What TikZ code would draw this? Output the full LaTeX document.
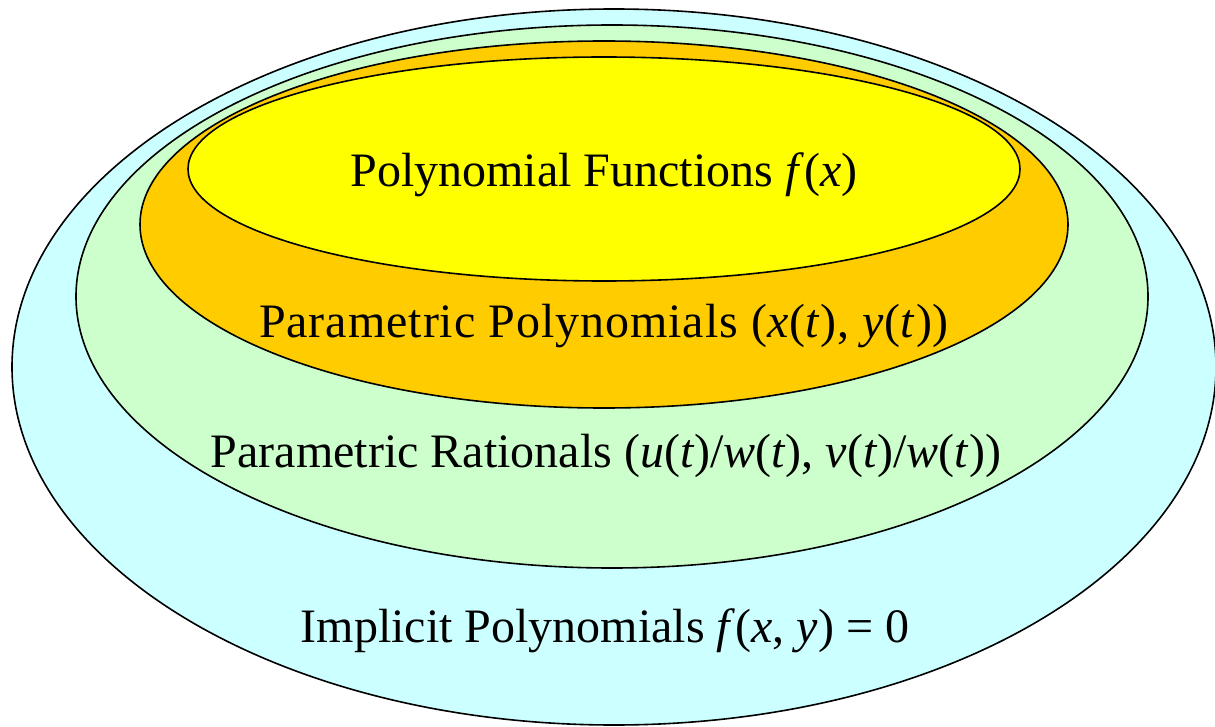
\documentclass[tikz,border=0pt]{standalone}
\usepackage{fontspec}
\setmainfont{Liberation Serif}
\newfontfamily\tnrfont{Liberation Serif}
\newfontfamily\tnrwide[LetterSpace=2]{Liberation Serif}
\definecolor{cyanfill}{HTML}{CCFFFF}
\definecolor{greenfill}{HTML}{CCFFCC}
\definecolor{orangefill}{HTML}{FFCC00}
\definecolor{yellowfill}{HTML}{FFFF00}
\tikzset{
  setellipse/.style={draw=black, line width=1.6pt},
  settext/.style={font=\tnrfont\fontsize{48}{56}\selectfont, anchor=base, inner sep=0pt}
}
\begin{document}
\begin{tikzpicture}[x=1pt,y=-1pt]
\useasboundingbox (0,0) rectangle (1215,727);
\path[setellipse, fill=cyanfill] (614,367) ellipse [x radius=602, y radius=358];
\path[setellipse, fill=greenfill] (612,296.5) ellipse [x radius=536, y radius=271.5];
\path[setellipse, fill=orangefill] (604,224.5) ellipse [x radius=464, y radius=183.5];
\path[setellipse, fill=yellowfill] (604,169) ellipse [x radius=416, y radius=112];
\node[settext] (poly) at (604,187) {Polynomial Functions \textit{f}(\textit{x})};
\node[settext, font=\tnrwide\fontsize{48}{56}\selectfont] (parpoly) at (604,337) {Parametric Polynomials (\textit{x}(\textit{t}), \textit{y}(\textit{t}))};
\node[settext] (parrat) at (606,467) {Parametric Rationals (\textit{u}(\textit{t})/\textit{w}(\textit{t}), \textit{v}(\textit{t})/\textit{w}(\textit{t}))};
\node[settext] (impl) at (605,642) {Implicit Polynomials \textit{f}(\textit{x}, \textit{y}) = 0};
\end{tikzpicture}
\end{document}
